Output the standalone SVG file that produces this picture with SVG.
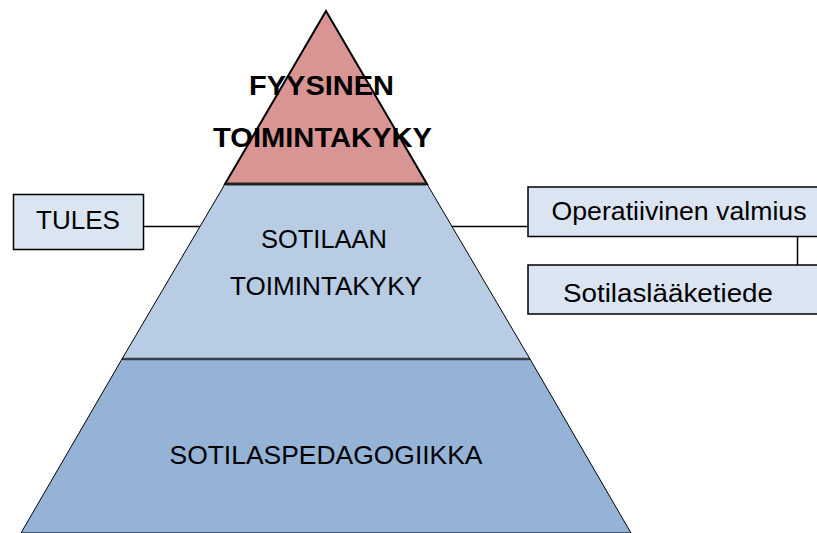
<svg xmlns="http://www.w3.org/2000/svg" width="817" height="533" viewBox="0 0 817 533">
<style>
.t{font-family:"Liberation Sans",Arial,sans-serif;fill:#000;text-anchor:middle}
.b{font-weight:bold;font-size:27.5px}
.r{font-size:25.5px}
.box{fill:#dbe5f1;stroke:#000;stroke-width:1.5}
.edge{stroke:#000;stroke-width:1.5;fill:none}
</style>
<rect width="817" height="533" fill="#fff"/>
<g id="level-sotilaspedagogiikka">
<polygon points="122,359 530,359 631,533 21,533" fill="#95b3d7" stroke="#000" stroke-width="1"/>
<text class="t r" x="326" y="464" textLength="313" lengthAdjust="spacingAndGlyphs">SOTILASPEDAGOGIIKKA</text>
</g>
<g id="level-sotilaan-toimintakyky">
<polygon points="225,184 427,184 530,359 122,359" fill="#b8cce4" stroke="#000" stroke-width="1"/>
<line x1="123" y1="359" x2="529" y2="359" stroke="#3b404a" stroke-width="2.5"/>
<text class="t r" x="324" y="248" textLength="126" lengthAdjust="spacingAndGlyphs">SOTILAAN</text>
<text class="t r" x="326" y="295" textLength="192" lengthAdjust="spacingAndGlyphs">TOIMINTAKYKY</text>
</g>
<g id="level-fyysinen-toimintakyky">
<polygon points="326,11 427,184 225,184" fill="#d99594" stroke="#000" stroke-width="2"/>
<line x1="226" y1="184" x2="426" y2="184" stroke="#222" stroke-width="3"/>
<text class="t b" x="321.5" y="95" textLength="145" lengthAdjust="spacingAndGlyphs">FYYSINEN</text>
<text class="t b" x="322.5" y="147" textLength="219" lengthAdjust="spacingAndGlyphs">TOIMINTAKYKY</text>
</g>
<g id="connectors">
<line class="edge" x1="144" y1="226.5" x2="200" y2="226.5"/>
<line class="edge" x1="452" y1="226.5" x2="528" y2="226.5"/>
<line class="edge" x1="797.5" y1="236.5" x2="797.5" y2="265"/>
</g>
<g id="box-tules">
<rect class="box" x="13.5" y="194.5" width="130" height="55"/>
<text class="t r" x="78" y="229" textLength="84" lengthAdjust="spacingAndGlyphs">TULES</text>
</g>
<g id="box-operatiivinen-valmius">
<rect class="box" x="528" y="187" width="300" height="49.5"/>
<text class="t r" x="679" y="219.5" textLength="255" lengthAdjust="spacingAndGlyphs">Operatiivinen valmius</text>
</g>
<g id="box-sotilaslaaketiede">
<rect class="box" x="528" y="265" width="300" height="49"/>
<text class="t r" x="668" y="301.5" font-size="26.5" textLength="210" lengthAdjust="spacingAndGlyphs">Sotilaslääketiede</text>
</g>
</svg>
